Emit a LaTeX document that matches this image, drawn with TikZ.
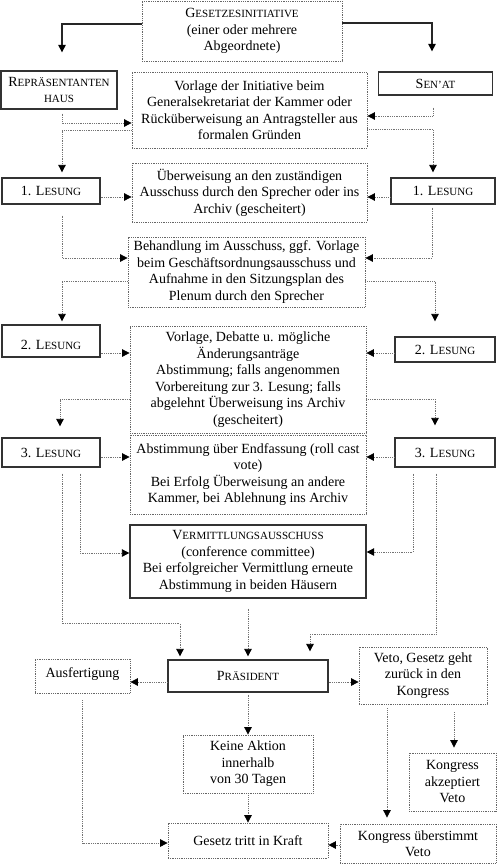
\documentclass[tikz,border=0pt]{standalone}
\usepackage{fontspec}
\setmainfont{Liberation Serif}
\usetikzlibrary{arrows.meta}
\newcommand\fsc[2]{#1{\fontsize{11}{16.5}\selectfont #2}}
\tikzset{
  dbox/.style={draw=black!60, densely dotted, line width=0.8pt, align=center, inner sep=0pt,
    font=\fontsize{14}{16.5}\selectfont},
  sbox/.style={draw=black!80, solid, line width=1.3pt, align=center, inner sep=0pt,
    font=\fontsize{14}{16.5}\selectfont},
  tip/.style={-{Triangle[length=7.5pt,width=7.5pt,color=black]}},
  conn/.style={tip, densely dotted, line width=0.8pt, draw=black!55},
  sline/.style={tip, solid, line width=1.2pt, draw=black!85},
}
\begin{document}
\begin{tikzpicture}[x=1pt,y=-1pt]
\useasboundingbox (0,0) rectangle (497,865);

% nodes
\node[dbox, minimum width=200pt, minimum height=60pt] (gi) at (242,31)
  {\fsc{G}{ESETZESINITIATIVE}\\(einer oder mehrere\\Abgeordnete)};
\node[sbox, minimum width=116pt, minimum height=38pt] (rep) at (59,90)
  {\fsc{R}{EPRÄSENTANTEN}\\{\fontsize{11}{16.5}\selectfont HAUS}};
\node[dbox, minimum width=235pt, minimum height=76pt] (vorl) at (249.5,110)
  {Vorlage der Initiative beim\\Generalsekretariat der Kammer oder\\Rücküberweisung an Antragsteller aus\\formalen Gründen};
\node[sbox, minimum width=114pt, minimum height=23pt] (sen) at (435.5,83.5)
  {\fsc{S}{EN’AT}};

\node[sbox, minimum width=98pt, minimum height=26pt] (l1L) at (51,191) {\fsc{1. L}{ESUNG}};
\node[dbox, minimum width=235pt, minimum height=59pt] (uew) at (249.5,192.5)
  {Überweisung an den zuständigen\\Ausschuss durch den Sprecher oder ins\\Archiv (gescheitert)};
\node[sbox, minimum width=104pt, minimum height=26pt] (l1R) at (443,191) {\fsc{1. L}{ESUNG}};

\node[dbox, minimum width=237pt, minimum height=70pt] (beh) at (246.5,272)
  {Behandlung im Ausschuss, ggf. Vorlage\\beim Geschäftsordnungsausschuss und\\Aufnahme in den Sitzungsplan des\\Plenum durch den Sprecher};

\node[sbox, minimum width=98pt, minimum height=32pt] (l2L) at (51,341)
  {\raisebox{-5pt}[9pt][2pt]{\fsc{2. L}{ESUNG}}};
\node[dbox, minimum width=236pt, minimum height=107pt] (vdeb) at (248,379.5)
  {Vorlage, Debatte u. mögliche\\Änderungsanträge\\Abstimmung; falls angenommen\\Vorbereitung zur 3. Lesung; falls\\abgelehnt Überweisung ins Archiv\\(gescheitert)};
\node[sbox, minimum width=100pt, minimum height=25pt] (l2R) at (445,349.5) {\fsc{2. L}{ESUNG}};

\node[sbox, minimum width=98pt, minimum height=29pt] (l3L) at (51,452.5) {\fsc{3. L}{ESUNG}};
\node[dbox, minimum width=236pt, minimum height=79pt] (abst) at (248,474.5)
  {Abstimmung über Endfassung (roll cast\\vote)\\Bei Erfolg Überweisung an andere\\Kammer, bei Ablehnung ins Archiv};
\node[sbox, minimum width=100pt, minimum height=29pt] (l3R) at (445,452.5) {\fsc{3. L}{ESUNG}};

\node[sbox, minimum width=236pt, minimum height=73pt] (verm) at (248,561.5)
  {\fsc{V}{ERMITTLUNGSAUSSCHUSS}\\(conference committee)\\Bei erfolgreicher Vermittlung erneute\\Abstimmung in beiden Häusern};

\node[sbox, minimum width=160pt, minimum height=32pt] (pres) at (248,676) {\fsc{P}{RÄSIDENT}};
\node[dbox, minimum width=95pt, minimum height=34pt] (ausf) at (82.5,676)
  {\raisebox{2pt}[9pt][3pt]{Ausfertigung}};
\node[dbox, minimum width=128pt, minimum height=57pt] (veto) at (423,675.5)
  {Veto, Gesetz geht\\zurück in den\\Kongress};
\node[dbox, minimum width=130pt, minimum height=58pt] (keine) at (248,764)
  {Keine Aktion\\innerhalb\\von 30 Tagen};
\node[dbox, minimum width=160pt, minimum height=35pt] (gesetz) at (248,840.5)
  {Gesetz tritt in Kraft};
\node[dbox, minimum width=87pt, minimum height=58pt] (kakz) at (452.5,782)
  {Kongress\\akzeptiert\\Veto};
\node[dbox, minimum width=156pt, minimum height=39pt] (kueb) at (418,843.5)
  {Kongress überstimmt\\Veto};

% solid connectors from initiative
\draw[sline, shorten >=18pt] ([yshift=7pt]gi.west) -| ([xshift=3pt]rep.north);
\draw[sline, shorten >=20pt] ([yshift=8pt]gi.east) -| ([xshift=-3.5pt]sen.north);

% dotted connectors
\draw[conn, shorten <=4pt] ([xshift=3pt]rep.south) |- ([yshift=-13pt]vorl.west);
\draw[conn, shorten >=5pt] ([yshift=-20pt]vorl.west) -| ([xshift=11pt]l1L.north);
\draw[conn, shorten <=12pt] ([xshift=-2.5pt]sen.south) |- ([yshift=-6pt]vorl.east);
\draw[conn, shorten >=5pt] ([yshift=-19pt]vorl.east) -| ([xshift=-10pt]l1R.north);

\draw[conn] ([yshift=-6pt]l1L.east) coordinate (p) -- (p -| uew.west);
\draw[conn] ([yshift=-6pt]l1R.west) coordinate (p) -- (p -| uew.east);
\draw[conn, shorten <=11pt] ([xshift=11pt]l1L.south) |- ([yshift=14pt]beh.west);
\draw[conn, shorten <=3pt] ([xshift=-11pt]l1R.south) |- ([yshift=14pt]beh.east);

\draw[conn, shorten >=3pt] ([yshift=-9pt]beh.west) -| ([xshift=11pt]l2L.north);
\draw[conn, shorten >=15pt] ([yshift=-9pt]beh.east) -| ([xshift=-10pt]l2R.north);
\draw[conn] ([yshift=-12pt]l2L.east) coordinate (p) -- (p -| vdeb.west);
\draw[conn] ([yshift=-3.5pt]l2R.west) coordinate (p) -- (p -| vdeb.east);

\draw[conn, shorten >=11pt] ([yshift=-19.5pt]vdeb.west) -| ([xshift=9pt]l3L.north);
\draw[conn, shorten >=12pt] ([yshift=-19.5pt]vdeb.east) -| ([xshift=-10pt]l3R.north);
\draw[conn] ([yshift=-4.5pt]l3L.east) coordinate (p) -- (p -| abst.west);
\draw[conn] ([yshift=-4.5pt]l3R.west) coordinate (p) -- (p -| abst.east);

\draw[conn, shorten <=6pt] ([xshift=29pt]l3L.south) |- ([yshift=8.5pt]verm.west);
\draw[conn, shorten <=6pt, shorten >=3pt] ([xshift=11pt]l3L.south) -- ++(0,156) -| ([xshift=-68pt]pres.north);
\draw[conn, shorten <=6pt] ([xshift=-32pt]l3R.south) |- ([yshift=9.5pt]verm.east);
\draw[conn, shorten <=6pt, shorten >=8pt] ([xshift=-9pt]l3R.south) -- ++(0,167) -| ([xshift=62pt]pres.north);
\draw[conn, shorten <=10pt, shorten >=3pt] (verm.south) -- (pres.north);

\draw[conn] ([yshift=-6pt]pres.west) coordinate (p) -- (p -| ausf.east);
\draw[conn] ([yshift=-6pt]pres.east) coordinate (p) -- (p -| veto.west);
\draw[conn, shorten <=2pt] (pres.south) -- (keine.north);
\draw[conn, shorten <=2pt] (keine.south) -- (gesetz.north);
\draw[conn, shorten <=7pt] (ausf.south) |- ([yshift=-2.5pt]gesetz.west);
\draw[conn, shorten <=8pt, shorten >=5pt] ([xshift=31pt]veto.south) coordinate (p) -- (p |- kakz.north);
\draw[conn, shorten <=4pt, shorten >=6pt] ([xshift=-36pt]veto.south) coordinate (p) -- (p |- kueb.north);
\draw[conn] ([yshift=-1.5pt]kueb.west) coordinate (p) -- (p -| gesetz.east);
\end{tikzpicture}
\end{document}
